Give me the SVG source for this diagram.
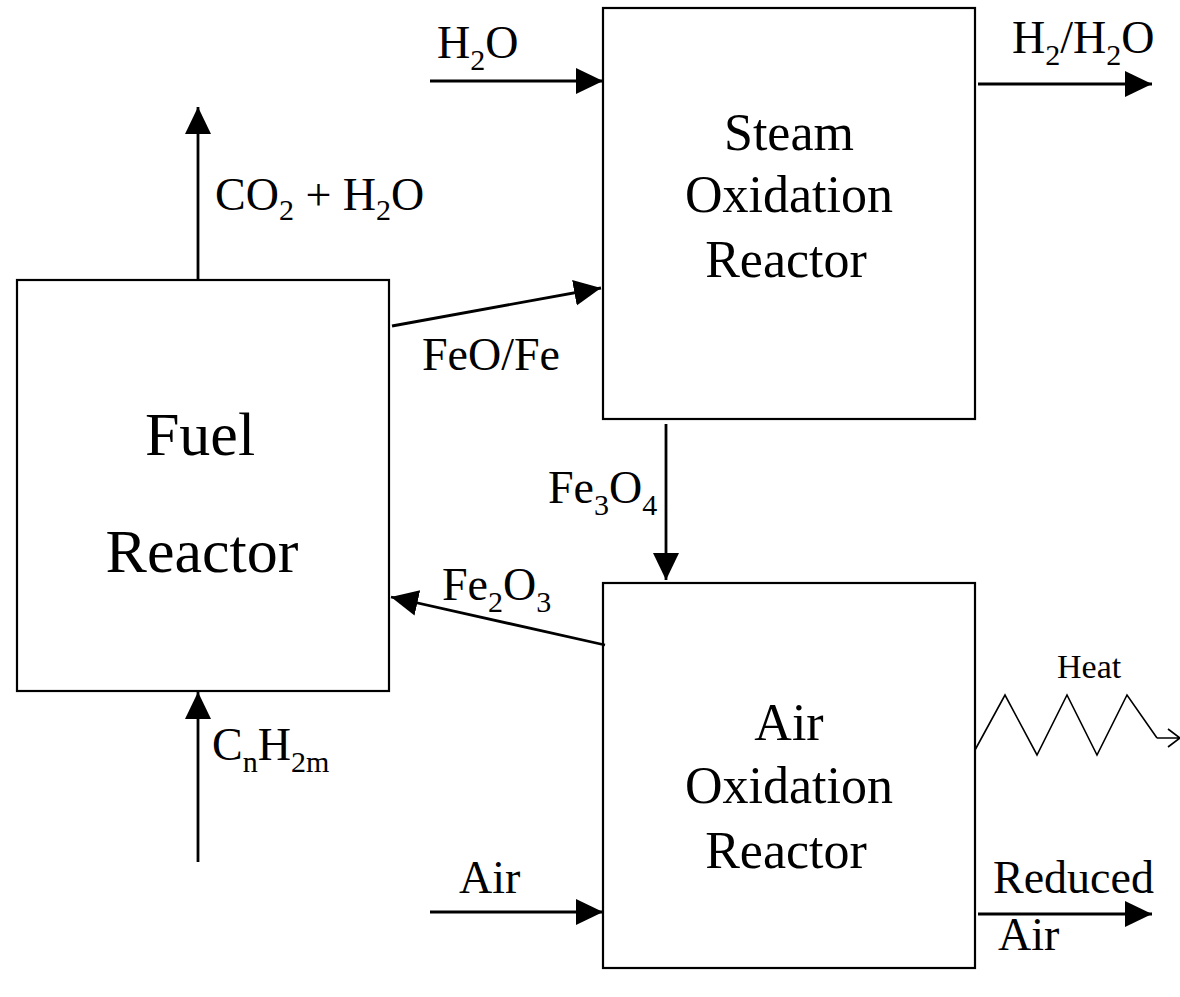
<svg xmlns="http://www.w3.org/2000/svg" width="1180" height="997" viewBox="0 0 1180 997">
<style>
.box{fill:#fff;stroke:#000;stroke-width:2.2}
.ln{fill:none;stroke:#000;stroke-width:2.8;marker-end:url(#ah)}
.t{font-family:"Liberation Serif","Times New Roman",serif;fill:#000}
.big{font-size:52px;text-anchor:middle}
.fuel{font-size:62px;text-anchor:middle}
.lab{font-size:46px}
.sub{font-size:30px}
</style>
<defs>
<marker id="ah" markerUnits="userSpaceOnUse" markerWidth="30" markerHeight="28" refX="27" refY="13" orient="auto">
<path d="M0,0 L27,13 L0,26 Z" fill="#000"/>
</marker>
</defs>
<rect width="1180" height="997" fill="#fff"/>
<g id="fuel-reactor">
<rect class="box" x="17" y="280" width="372" height="411"/>
<text class="t fuel" x="200" y="455">Fuel</text>
<text class="t fuel" x="202" y="572">Reactor</text>
</g>
<g id="steam-oxidation-reactor">
<rect class="box" x="603" y="8" width="372" height="411"/>
<text class="t big" x="789" y="150">Steam</text>
<text class="t big" x="789" y="212">Oxidation</text>
<text class="t big" x="786" y="277">Reactor</text>
</g>
<g id="air-oxidation-reactor">
<rect class="box" x="603" y="583" width="372" height="385"/>
<text class="t big" x="789" y="740">Air</text>
<text class="t big" x="789" y="803">Oxidation</text>
<text class="t big" x="786" y="868">Reactor</text>
</g>
<g id="connectors">
<line class="ln" x1="430" y1="81" x2="603" y2="81"/>
<line class="ln" x1="978" y1="84" x2="1152" y2="84"/>
<line class="ln" x1="198" y1="279" x2="198" y2="107"/>
<line class="ln" x1="392" y1="326" x2="601" y2="288"/>
<line class="ln" x1="666" y1="424" x2="666" y2="580"/>
<line class="ln" x1="605" y1="645" x2="391" y2="597"/>
<line class="ln" x1="198" y1="862" x2="198" y2="692"/>
<line class="ln" x1="430" y1="912" x2="603" y2="912"/>
<line class="ln" x1="978" y1="914" x2="1152" y2="914"/>
<polyline points="975,750 1005,695 1037,755 1067,695 1097,755 1127,695 1157,738" fill="none" stroke="#000" stroke-width="1.6"/>
<path d="M1157,738 L1180,738 M1168,729 L1180,738 L1168,747" fill="none" stroke="#000" stroke-width="1.6"/>
</g>
<g id="labels">
<text class="t lab" x="437" y="58">H<tspan class="sub" dy="12">2</tspan><tspan dy="-12">O</tspan></text>
<text class="t lab" x="1012" y="53">H<tspan class="sub" dy="12">2</tspan><tspan dy="-12">/H</tspan><tspan class="sub" dy="12">2</tspan><tspan dy="-12">O</tspan></text>
<text class="t lab" x="215" y="210">CO<tspan class="sub" dy="10">2</tspan><tspan dy="-10" xml:space="preserve"> + H</tspan><tspan class="sub" dy="10">2</tspan><tspan dy="-10">O</tspan></text>
<text class="t lab" x="422" y="370">FeO/Fe</text>
<text class="t lab" x="548" y="503">Fe<tspan class="sub" dy="12">3</tspan><tspan dy="-12">O</tspan><tspan class="sub" dy="12">4</tspan></text>
<text class="t lab" x="442" y="600">Fe<tspan class="sub" dy="12">2</tspan><tspan dy="-12">O</tspan><tspan class="sub" dy="12">3</tspan></text>
<text class="t lab" x="212" y="760">C<tspan class="sub" dy="12">n</tspan><tspan dy="-12">H</tspan><tspan class="sub" dy="12">2m</tspan></text>
<text class="t lab" x="459" y="893">Air</text>
<text class="t lab" x="993" y="893">Reduced</text>
<text class="t lab" x="998" y="950">Air</text>
<text class="t" x="1057" y="678" font-size="34">Heat</text>
</g>
</svg>
